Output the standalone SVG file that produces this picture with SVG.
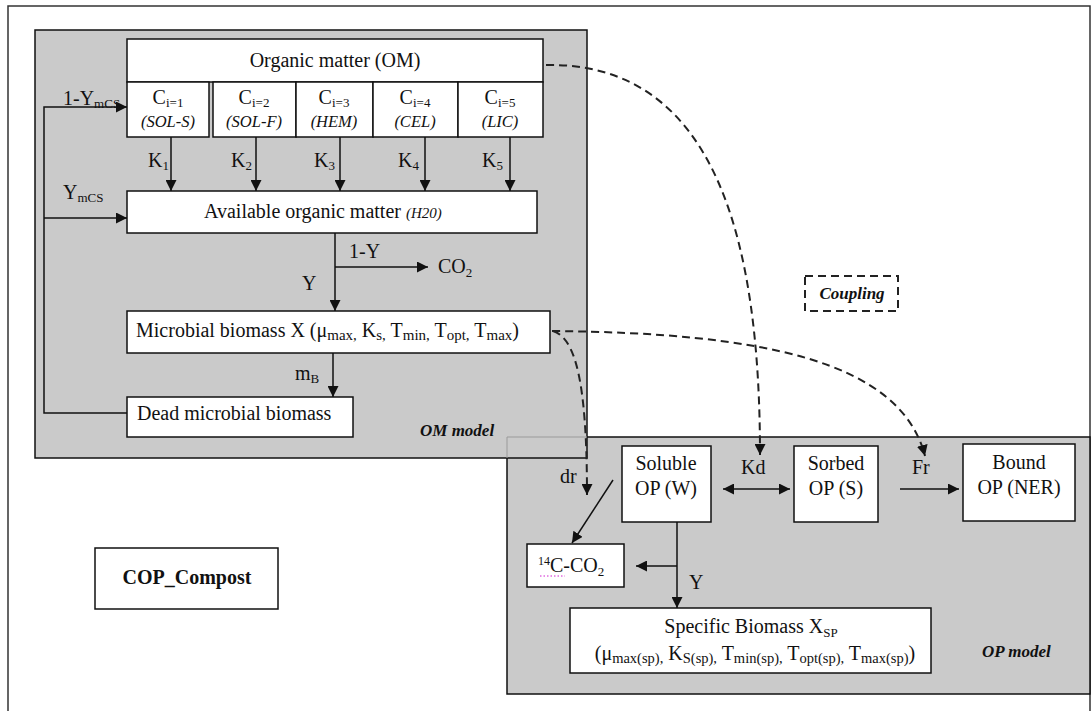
<svg xmlns="http://www.w3.org/2000/svg" width="1092" height="711" viewBox="0 0 1092 711">
<defs>
<marker id="ah" viewBox="0 0 10 10" refX="10" refY="5" markerWidth="11" markerHeight="11" markerUnits="userSpaceOnUse" orient="auto-start-reverse"><path d="M0,0 L10,5 L0,10 Z" fill="#111"/></marker>
<style>
.box{fill:#fff;stroke:#111;stroke-width:1.5}
.gray{fill:#cacaca;stroke:#111;stroke-width:1.5}
.ln{stroke:#111;stroke-width:1.5;fill:none}
.arr{stroke:#111;stroke-width:1.5;fill:none;marker-end:url(#ah)}
.dash{stroke:#222;stroke-width:2;fill:none;stroke-dasharray:8 5;marker-end:url(#ah)}
text{font-family:"Liberation Serif","Times New Roman",serif;font-size:20px;fill:#111}
.it{font-style:italic;font-size:16.5px}
.bi{font-style:italic;font-weight:bold;font-size:17px}
.s{font-size:13px}
.mid{text-anchor:middle}
</style>
</defs>
<rect x="0" y="0" width="1092" height="711" fill="#fff"/>
<rect x="8" y="6" width="1082" height="730" fill="none" stroke="#333" stroke-width="1.5"/>

<g id="op-model">
<rect class="gray" x="507" y="437" width="583" height="257"/>
<text class="bi" x="982" y="657">OP model</text>
</g>
<g id="om-model">
<rect class="gray" x="35" y="30" width="552" height="428"/>
<path d="M507,437 H587 M507,437 V458" stroke="#9a9a9a" stroke-width="1" fill="none"/>
<text class="bi" x="420" y="436">OM model</text>
</g>

<g id="om">
<rect class="box" x="127" y="39" width="416" height="43"/>
<text class="mid" x="335" y="67" font-size="21">Organic matter (OM)</text>
</g>
<g id="c1"><rect class="box" x="127" y="82" width="82" height="55"/>
<text class="mid" x="168" y="104">C<tspan class="s" dy="3">i=1</tspan></text><text class="it mid" x="168" y="127">(SOL-S)</text></g>
<g id="c2"><rect class="box" x="213" y="82" width="83" height="55"/>
<text class="mid" x="254" y="104">C<tspan class="s" dy="3">i=2</tspan></text><text class="it mid" x="254" y="127">(SOL-F)</text></g>
<g id="c3"><rect class="box" x="296" y="82" width="77" height="55"/>
<text class="mid" x="334" y="104">C<tspan class="s" dy="3">i=3</tspan></text><text class="it mid" x="334" y="127">(HEM)</text></g>
<g id="c4"><rect class="box" x="373" y="82" width="85" height="55"/>
<text class="mid" x="415" y="104">C<tspan class="s" dy="3">i=4</tspan></text><text class="it mid" x="415" y="127">(CEL)</text></g>
<g id="c5"><rect class="box" x="458" y="82" width="85" height="55"/>
<text class="mid" x="500" y="104">C<tspan class="s" dy="3">i=5</tspan></text><text class="it mid" x="500" y="127">(LIC)</text></g>

<g id="available">
<rect class="box" x="127" y="191" width="410" height="42"/>
<text x="204" y="218" font-size="21.5">Available organic matter <tspan font-style="italic" font-size="15">(H20)</tspan></text>
</g>
<g id="microbial">
<rect class="box" x="127" y="311" width="423" height="42"/>
<text x="136" y="337" font-size="22">Microbial biomass X (μ<tspan font-size="15" dy="3">max,</tspan><tspan dy="-3"> K</tspan><tspan font-size="15" dy="3">s,</tspan><tspan dy="-3"> T</tspan><tspan font-size="15" dy="3">min,</tspan><tspan dy="-3"> T</tspan><tspan font-size="15" dy="3">opt,</tspan><tspan dy="-3"> T</tspan><tspan font-size="15" dy="3">max</tspan><tspan dy="-3">)</tspan></text>
</g>
<g id="dead">
<rect class="box" x="127" y="397" width="226" height="40"/>
<text x="137" y="420" font-size="21.5">Dead microbial biomass</text>
</g>

<g id="coupling">
<rect x="805" y="276" width="93" height="35" fill="#fff" stroke="#222" stroke-width="2" stroke-dasharray="8 5"/>
<text class="bi mid" x="852" y="299">Coupling</text>
</g>

<g id="soluble">
<rect class="box" x="622" y="446" width="89" height="76"/>
<text class="mid" x="666" y="470" font-size="21">Soluble</text>
<text class="mid" x="666" y="495" font-size="21">OP (W)</text>
</g>
<g id="sorbed">
<rect class="box" x="794" y="446" width="84" height="76"/>
<text class="mid" x="836" y="470" font-size="21">Sorbed</text>
<text class="mid" x="836" y="495" font-size="21">OP (S)</text>
</g>
<g id="bound">
<rect class="box" x="963" y="444" width="112" height="77"/>
<text class="mid" x="1019" y="469" font-size="21">Bound</text>
<text class="mid" x="1019" y="494" font-size="21">OP (NER)</text>
</g>
<g id="c14co2">
<rect class="box" x="527" y="544" width="97" height="43"/>
<text x="538" y="572"><tspan font-size="12" dy="-7">14</tspan><tspan dy="7">C-CO</tspan><tspan class="s" dy="4">2</tspan></text>
<line x1="540" y1="576" x2="565" y2="576" stroke="#d020d0" stroke-width="1" stroke-dasharray="1.5 2"/>
</g>
<g id="specific">
<rect class="box" x="570" y="608" width="361" height="65"/>
<text class="mid" x="751" y="633" font-size="21.5">Specific Biomass X<tspan font-size="13" dy="4">SP</tspan></text>
<text class="mid" x="755" y="660" font-size="22">(μ<tspan font-size="14.5" dy="3">max(sp),</tspan><tspan dy="-3"> K</tspan><tspan font-size="14.5" dy="3">S(sp),</tspan><tspan dy="-3"> T</tspan><tspan font-size="14.5" dy="3">min(sp),</tspan><tspan dy="-3"> T</tspan><tspan font-size="14.5" dy="3">opt(sp),</tspan><tspan dy="-3"> T</tspan><tspan font-size="14.5" dy="3">max(sp)</tspan><tspan dy="-3">)</tspan></text>
</g>
<g id="cop-compost">
<rect class="box" x="95" y="548" width="183" height="61"/>
<text class="mid" x="187" y="584" font-weight="bold" font-size="21">COP_Compost</text>
</g>

<g id="connectors">
<path class="arr" d="M171,137 V191"/>
<path class="arr" d="M256,137 V191"/>
<path class="arr" d="M340,137 V191"/>
<path class="arr" d="M425,137 V191"/>
<path class="arr" d="M510,137 V191"/>
<path class="arr" d="M127,413 H44 V107 H127"/>
<path class="arr" d="M44,218 H127"/>
<path class="arr" d="M335,233 V311"/>
<path class="arr" d="M335,267 H428"/>
<path class="arr" d="M333,353 V397"/>
<path class="arr" d="M613,480 L572,543"/>
<path class="arr" d="M677,522 V608"/>
<path class="arr" d="M677,566 H636"/>
<path class="arr" d="M723,489 H790" marker-start="url(#ah)"/>
<path class="arr" d="M900,489 H959"/>
<path class="dash" d="M546,65 C720,62 760,250 760,455"/>
<path class="dash" d="M552,331 C760,333 900,360 925,456"/>
<path class="dash" d="M553,331 C575,338 587,380 587,495"/>
<text x="148" y="167">K<tspan class="s" dy="3">1</tspan></text>
<text x="231" y="167">K<tspan class="s" dy="3">2</tspan></text>
<text x="314" y="167">K<tspan class="s" dy="3">3</tspan></text>
<text x="398" y="167">K<tspan class="s" dy="3">4</tspan></text>
<text x="482" y="167">K<tspan class="s" dy="3">5</tspan></text>
<text x="63" y="105">1-Y<tspan class="s" dy="3">mCS</tspan></text>
<text x="63" y="199">Y<tspan class="s" dy="3">mCS</tspan></text>
<text x="349" y="258">1-Y</text>
<text x="438" y="273">CO<tspan class="s" dy="4">2</tspan></text>
<text x="302" y="290">Y</text>
<text x="295" y="380">m<tspan class="s" dy="3">B</tspan></text>
<text x="560" y="483">dr</text>
<text x="741" y="474">Kd</text>
<text x="912" y="474">Fr</text>
<text x="689" y="589">Y</text>
</g>
</svg>
